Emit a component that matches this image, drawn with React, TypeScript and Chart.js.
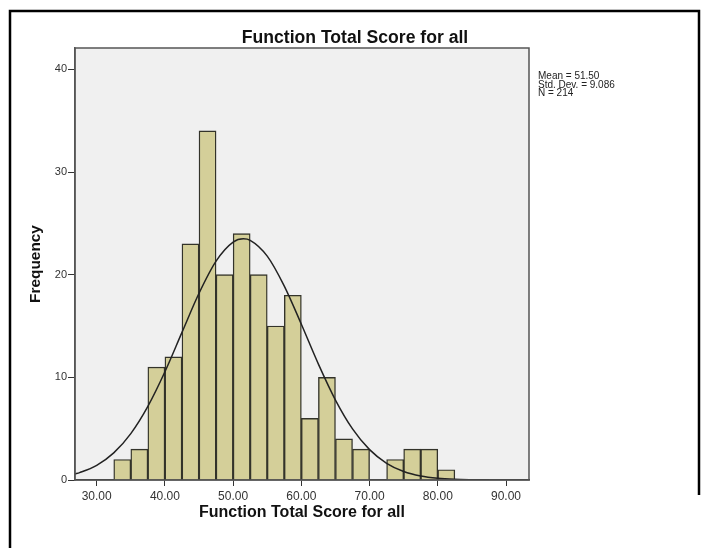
import { useEffect, useRef } from 'react';
import { Chart, registerables } from 'chart.js';

Chart.register(...registerables);

// Histogram bins (lower edges) and their frequencies
const binStarts = [32.5, 35, 37.5, 40, 42.5, 45, 47.5, 50, 52.5, 55, 57.5, 60, 62.5, 65, 67.5, 70, 72.5, 75, 77.5, 80];
const frequencies = [2, 3, 11, 12, 23, 34, 20, 24, 20, 15, 18, 6, 10, 4, 3, 0, 2, 3, 3, 1];
const binWidth = 2.5;

// Normal curve
const curveX = [26.8, 27.5, 30, 32.5, 35, 37.5, 40, 42.5, 45, 47.5, 50, 51.5, 52.5, 55, 57.5, 60, 62.5, 65, 67.5, 70, 72.5, 75, 77.5, 80, 82.5, 85, 87.5];
const curveY = [0.58, 0.72, 1.43, 2.64, 4.52, 7.17, 10.54, 14.38, 18.19, 21.32, 23.17, 23.49, 23.35, 21.81, 18.89, 15.17, 11.29, 7.79, 4.98, 2.96, 1.63, 0.83, 0.39, 0.17, 0.07, 0.03, 0.01];

const xTicks = [30, 40, 50, 60, 70, 80, 90];
const yTicks = [0, 10, 20, 30, 40];

const titleText = 'Function Total Score for all';
const xTitle = 'Function Total Score for all';
const yTitle = 'Frequency';
const statsLines = ['Mean = 51.50', 'Std. Dev. = 9.086', 'N = 214'];

const FONT = '"Liberation Sans", Arial, Helvetica, sans-serif';

const decor = {
  id: 'decor',
  beforeDraw(chart: any) {
    const { ctx, chartArea: a } = chart;
    ctx.save();
    ctx.fillStyle = '#f0f0f0';
    ctx.fillRect(a.left, a.top, a.right - a.left, a.bottom - a.top);
    ctx.restore();
  },
  afterDraw(chart: any) {
    const { ctx, chartArea: a } = chart;
    ctx.save();
    // plot frame
    ctx.strokeStyle = '#555';
    ctx.lineWidth = 1.5;
    ctx.strokeRect(a.left, a.top, a.right - a.left, a.bottom - a.top);
    // page frame
    ctx.strokeStyle = '#000';
    ctx.lineWidth = 2.5;
    ctx.beginPath();
    ctx.moveTo(10, 548);
    ctx.lineTo(10, 11);
    ctx.lineTo(699, 11);
    ctx.lineTo(699, 495);
    ctx.stroke();
    // title
    ctx.fillStyle = '#111';
    ctx.textAlign = 'center';
    ctx.textBaseline = 'alphabetic';
    ctx.font = `bold 17.6px ${FONT}`;
    ctx.fillText(titleText, 355, 43);
    // x title
    ctx.font = `bold 16px ${FONT}`;
    ctx.fillText(xTitle, (a.left + a.right) / 2, 517);
    // y title
    ctx.save();
    ctx.translate(40, (a.top + a.bottom) / 2);
    ctx.rotate(-Math.PI / 2);
    ctx.font = `bold 15.4px ${FONT}`;
    ctx.fillText(yTitle, 0, 0);
    ctx.restore();
    // stats
    const ys = [79, 87.5, 96];
    statsLines.forEach((s, i) => {
      ctx.fillStyle = '#222';
      ctx.textAlign = 'left';
      ctx.textBaseline = 'alphabetic';
      ctx.font = `10px ${FONT}`;
      ctx.fillText(s, 538, ys[i]);
    });
    ctx.restore();
  },
};

export default function App() {
  const ref = useRef<HTMLCanvasElement>(null);

  useEffect(() => {
    if (!ref.current) return;
    const barData = binStarts
      .map((s, i) => ({ x: s + binWidth / 2, y: frequencies[i] }))
      .filter((d) => d.y > 0);
    const lineData = curveX.map((x, i) => ({ x, y: curveY[i] }));

    const chart = new Chart(ref.current, {
      type: 'bar',
      data: {
        datasets: [
          {
            type: 'line',
            data: lineData,
            borderColor: '#222',
            borderWidth: 1.5,
            pointRadius: 0,
            fill: false,
            cubicInterpolationMode: 'monotone',
            order: 0,
          } as any,
          {
            type: 'bar',
            data: barData,
            backgroundColor: '#d4cf99',
            borderColor: '#33332a',
            borderWidth: 1.4,
            barPercentage: 1,
            categoryPercentage: 1,
            order: 1,
          } as any,
        ],
      },
      options: {
        animation: false,
        responsive: false,
        maintainAspectRatio: false,
        layout: { padding: { left: 0, top: 48, right: 179, bottom: 0 } },
        plugins: {
          legend: { display: false },
          tooltip: { enabled: false },
          title: { display: false },
        },
        scales: {
          x: {
            type: 'linear',
            min: 26.82,
            max: 93.37,
            offset: false,
            afterBuildTicks: (s: any) => {
              s.ticks = xTicks.map((v) => ({ value: v }));
            },
            afterFit: (s: any) => {
              s.height = 68;
            },
            grid: { offset: false, drawOnChartArea: false, drawTicks: true, tickLength: 6, color: '#333', lineWidth: 1 },
            border: { display: true, color: '#333', width: 1.5 },
            ticks: {
              padding: 3,
              color: '#333',
              font: { family: FONT, size: 12 },
              maxRotation: 0,
              autoSkip: false,
              callback: (v: any) => Number(v).toFixed(2),
            },
          },
          y: {
            type: 'linear',
            min: 0,
            max: 42.08,
            afterBuildTicks: (s: any) => {
              s.ticks = yTicks.map((v) => ({ value: v }));
            },
            afterFit: (s: any) => {
              s.width = 75;
            },
            grid: { offset: false, drawOnChartArea: false, drawTicks: true, tickLength: 7, color: '#333', lineWidth: 1 },
            border: { display: true, color: '#555', width: 1.5 },
            ticks: {
              padding: 1,
              color: '#333',
              font: { family: FONT, size: 11 },
              autoSkip: false,
              callback: (v: any) => String(v),
            },
          },
        },
      } as any,
      plugins: [decor],
    });
    return () => chart.destroy();
  }, []);

  return (
    <div style={{ position: 'absolute', left: 0, top: 0, width: 708, height: 548, background: '#fff' }}>
      <canvas ref={ref} width={708} height={548} style={{ display: 'block', width: 708, height: 548 }} />
    </div>
  );
}
